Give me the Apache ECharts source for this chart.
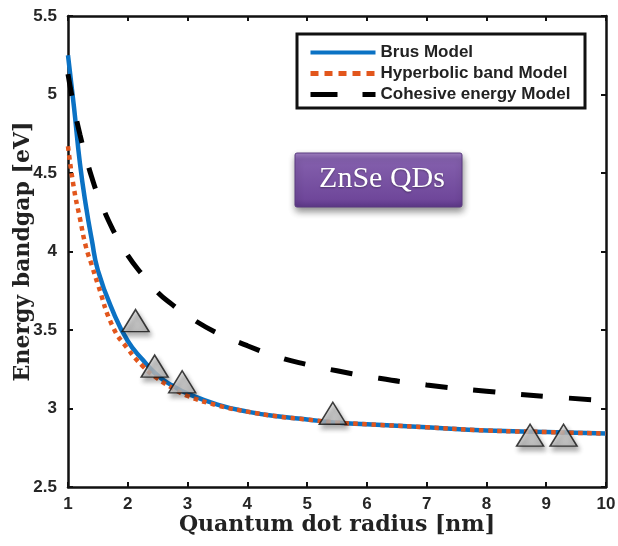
<!DOCTYPE html>
<html>
<head>
<meta charset="utf-8">
<script src="https://cdn.jsdelivr.net/npm/echarts@6/dist/echarts.min.js"></script>
<style>
  html, body { margin: 0; padding: 0; background: #fff; }
  #chart { width: 618px; height: 546px; }
</style>
</head>
<body>
<div id="chart"></div>
<script>
// Quantum dot radius samples (nm)
const radius = [1, 1.1, 1.2, 1.3, 1.4, 1.5, 1.75, 2, 2.25, 2.5, 2.75, 3, 3.5, 4, 4.5, 5, 5.5, 6, 7, 8, 9, 10];
// Band gap (eV) predicted by each model at those radii
const brusModel = [5.25, 4.92, 4.56, 4.29, 4.07, 3.88, 3.62, 3.43, 3.31, 3.21, 3.145, 3.095, 3.025, 2.98, 2.95, 2.93, 2.91, 2.90, 2.88, 2.86, 2.85, 2.84];
const hyperbolicModel = [4.67, 4.40, 4.21, 4.03, 3.91, 3.79, 3.52, 3.38, 3.27, 3.19, 3.13, 3.08, 3.02, 2.98, 2.95, 2.93, 2.91, 2.90, 2.88, 2.86, 2.85, 2.84];
const cohesiveModel = [5.13, 4.92, 4.745, 4.60, 4.47, 4.36, 4.14, 3.975, 3.85, 3.74, 3.66, 3.59, 3.48, 3.40, 3.33, 3.28, 3.24, 3.205, 3.15, 3.11, 3.077, 3.05];
// Experimental points
const expRadius = [2.13, 2.45, 2.91, 5.43, 8.73, 9.29];
const expGap = [3.56, 3.27, 3.17, 2.97, 2.83, 2.83];
// Axis settings
const xTicks = { min: 1, max: 10, step: 1 };
const yTicks = { min: 2.5, max: 5.5, step: 0.5 };

const zip = (xs, ys) => xs.map((x, i) => [x, ys[i]]);

const tickFont = { fontFamily: '"Liberation Sans", Arial, sans-serif', fontWeight: 'bold', fontSize: 17, color: '#262626' };
const titleFont = { fontFamily: '"DejaVu Serif", serif', fontWeight: 'bold', fontSize: 22, color: '#222' };
const frameLine = { lineStyle: { color: '#111', width: 2.5 } };
const innerTick = { inside: true, length: 5, lineStyle: { color: '#111', width: 2 } };
const hiddenMarker = { color: 'rgba(0,0,0,0)', borderColor: 'rgba(0,0,0,0)', borderWidth: 0 };

const chart = echarts.init(document.getElementById('chart'), null, { renderer: 'canvas' });

chart.setOption({
  animation: false,
  backgroundColor: '#fff',
  grid: { left: 68, right: 12, top: 16, bottom: 59, containLabel: false, outerBoundsMode: 'none' },
  xAxis: [
    {
      type: 'value', min: xTicks.min, max: xTicks.max, interval: xTicks.step,
      name: 'Quantum dot radius [nm]', nameLocation: 'middle', nameGap: 27, nameMoveOverlap: false,
      nameTextStyle: titleFont,
      axisLine: frameLine, axisTick: innerTick,
      axisLabel: Object.assign({ margin: 9 }, tickFont),
      splitLine: { show: false }
    },
    {
      type: 'value', position: 'top', min: xTicks.min, max: xTicks.max, interval: xTicks.step,
      axisLine: frameLine, axisTick: innerTick,
      axisLabel: { show: false }, splitLine: { show: false }
    }
  ],
  yAxis: [
    {
      type: 'value', min: yTicks.min, max: yTicks.max, interval: yTicks.step,
      name: 'Energy bandgap [eV]', nameLocation: 'middle', nameGap: 34, nameMoveOverlap: false,
      nameTextStyle: titleFont,
      axisLine: frameLine, axisTick: innerTick,
      axisLabel: Object.assign({ margin: 11 }, tickFont),
      splitLine: { show: false }
    },
    {
      type: 'value', position: 'right', min: yTicks.min, max: yTicks.max, interval: yTicks.step,
      axisLine: frameLine, axisTick: innerTick,
      axisLabel: { show: false }, splitLine: { show: false }
    }
  ],
  legend: {
    orient: 'vertical', left: 308, top: 44, padding: 0,
    itemWidth: 65, itemHeight: 14, itemGap: 4,
    selectedMode: false,
    textStyle: { fontFamily: '"Liberation Sans", Arial, sans-serif', fontWeight: 'bold', fontSize: 17, color: '#222' },
    data: [
      { name: 'Brus Model', itemStyle: hiddenMarker, lineStyle: { width: 4 } },
      { name: 'Hyperbolic band Model', itemStyle: hiddenMarker, lineStyle: { width: 5, type: [8, 6] } },
      { name: 'Cohesive energy Model', itemStyle: hiddenMarker, lineStyle: { width: 5, type: [27, 25] } }
    ]
  },
  graphic: [
    {
      type: 'rect', z: 3,
      shape: { x: 297, y: 34, width: 288, height: 74 },
      style: { fill: '#fff', stroke: '#111', lineWidth: 3 }
    },
    {
      type: 'group', z: 5,
      children: [
        {
          type: 'rect',
          shape: { x: 295, y: 153, width: 167, height: 54, r: 2 },
          style: {
            fill: new echarts.graphic.LinearGradient(0, 0, 0, 1, [
              { offset: 0, color: '#a283c4' },
              { offset: 0.12, color: '#8460ad' },
              { offset: 0.85, color: '#6f479a' },
              { offset: 1, color: '#5c3786' }
            ]),
            stroke: '#5a3a80', lineWidth: 1,
            shadowBlur: 7, shadowOffsetX: 1, shadowOffsetY: 4, shadowColor: 'rgba(0,0,0,0.45)'
          }
        },
        {
          type: 'text',
          style: {
            text: 'ZnSe QDs', x: 382, y: 179, align: 'center', verticalAlign: 'middle',
            fill: '#ffffff', font: '30px "Liberation Serif", "Times New Roman", serif',
            textShadowBlur: 2, textShadowColor: 'rgba(0,0,0,0.35)', textShadowOffsetY: 1
          }
        }
      ]
    }
  ],
  series: [
    {
      name: 'Brus Model', type: 'line', data: zip(radius, brusModel),
      smooth: 0.5, symbol: 'none', z: 2,
      lineStyle: { color: '#0b72c4', width: 4.5 }, itemStyle: { color: '#0b72c4' }
    },
    {
      name: 'Hyperbolic band Model', type: 'line', data: zip(radius, hyperbolicModel),
      smooth: 0.5, symbol: 'none', z: 3,
      lineStyle: { color: '#e2561c', width: 4.5, type: [4.5, 4.5] }, itemStyle: { color: '#e2561c' }
    },
    {
      name: 'Cohesive energy Model', type: 'line', data: zip(radius, cohesiveModel),
      smooth: 0.5, symbol: 'none', z: 3,
      lineStyle: { color: '#000', width: 5, type: [22, 26] }, itemStyle: { color: '#000' }
    },
    {
      name: 'Experiment', type: 'scatter', data: zip(expRadius, expGap),
      symbol: 'triangle', symbolSize: [27, 22], z: 4,
      itemStyle: {
        color: new echarts.graphic.LinearGradient(0, 0, 0, 1, [
          { offset: 0, color: '#dedede' },
          { offset: 1, color: '#b9b9b9' }
        ]),
        borderColor: '#111', borderWidth: 1.5,
        shadowBlur: 5, shadowOffsetX: 2, shadowOffsetY: 4, shadowColor: 'rgba(0,0,0,0.4)'
      }
    }
  ]
});
</script>
</body>
</html>
